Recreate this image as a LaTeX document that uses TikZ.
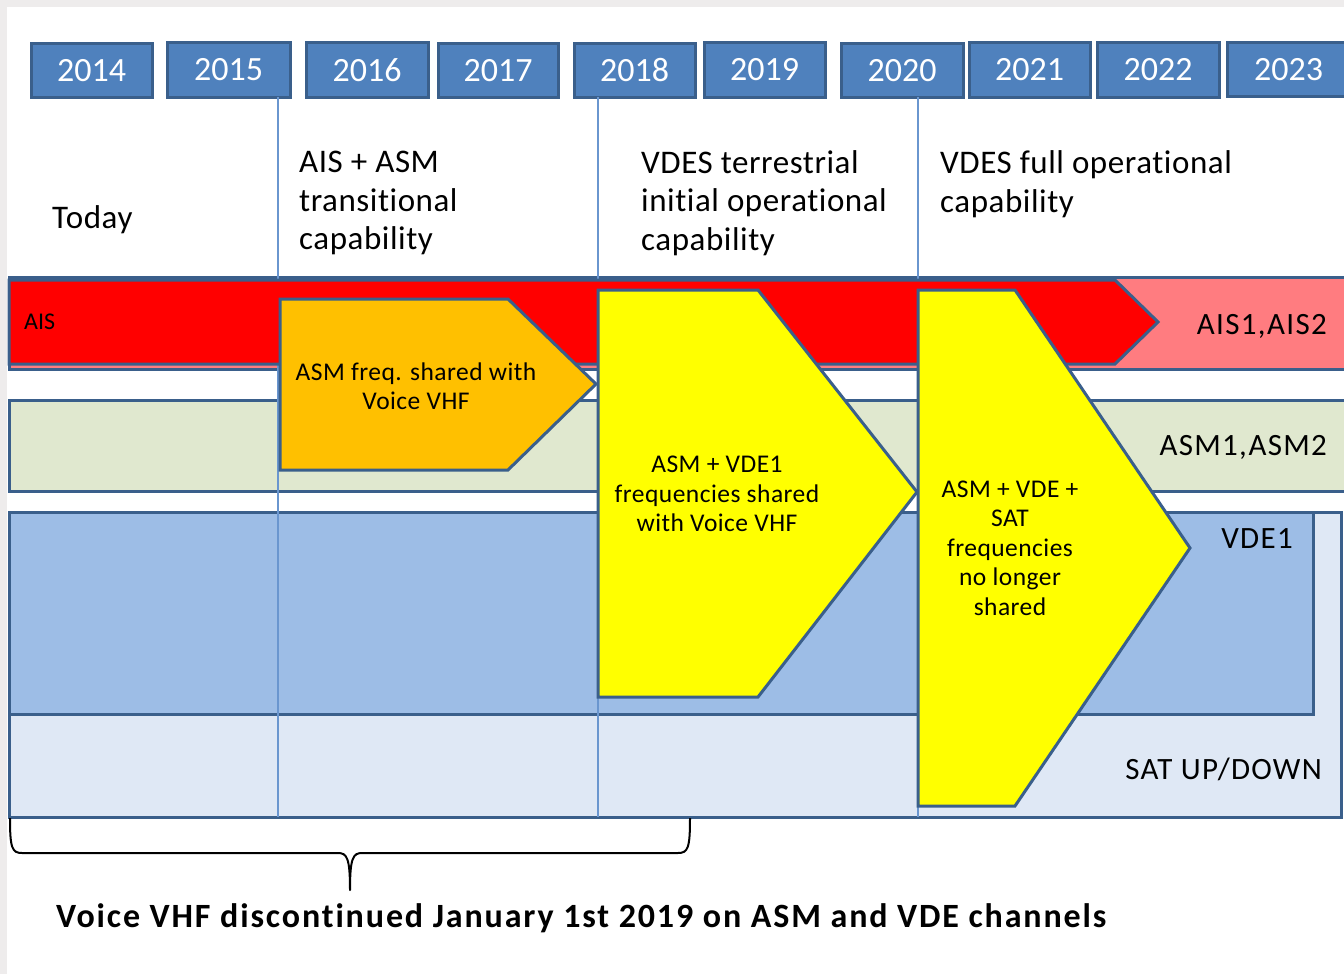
\documentclass[tikz,border=0pt]{standalone}
\usepackage{fontspec}
\setmainfont{Carlito}[Ligatures=NoCommon]
\definecolor{frameGray}{HTML}{EEECEC}
\definecolor{boxBlue}{HTML}{4F81BD}
\definecolor{edgeBlue}{HTML}{3A5F8B}
\definecolor{gridBlue}{HTML}{6A96CF}
\definecolor{aisRed}{HTML}{FF0000}
\definecolor{aisPink}{HTML}{FF7C80}
\definecolor{asmGreen}{HTML}{E0E8CF}
\definecolor{vdeBlue}{HTML}{9DBDE6}
\definecolor{satBlue}{HTML}{DFE8F5}
\definecolor{phaseOrange}{HTML}{FFC000}
\definecolor{phaseYellow}{HTML}{FFFF00}
\tikzset{
  yearbox/.style={draw=edgeBlue, line width=3pt, fill=boxBlue, text=white,
    inner sep=0pt, font=\fontsize{34}{40}\selectfont},
  band/.style={draw=edgeBlue, line width=3pt},
  grid/.style={draw=gridBlue, line width=1.1pt},
  phase/.style={draw=edgeBlue, line width=3pt, line join=miter},
  milestone/.style={align=left, inner sep=0pt,
    font=\fontsize{33}{38.5}\selectfont\addfontfeatures{LetterSpace=1.7}},
  bandlabel/.style={inner sep=0pt,
    font=\fontsize{31}{36}\selectfont\addfontfeatures{LetterSpace=4.2}},
  phasetext/.style={align=center, inner sep=0pt,
    font=\fontsize{25.5}{29.5}\selectfont\addfontfeatures{LetterSpace=1.8}},
  brace/.style={draw=black, line width=2pt, line join=round},
}
\begin{document}
\begin{tikzpicture}[x=1pt, y=-1pt]
% page and frame
\useasboundingbox (0,0) rectangle (1344,974);
\fill[frameGray] (0,0) rectangle (1344,974);
\fill[white] (7,7) rectangle (1344,974);

% year boxes
\node[yearbox, minimum width=121pt, minimum height=53pt] (y2014) at (91.5,70.5) {2014};
\node[yearbox, minimum width=123pt, minimum height=54pt] (y2015) at (228.5,70) {2015};
\node[yearbox, minimum width=122pt, minimum height=54pt] (y2016) at (367,70) {2016};
\node[yearbox, minimum width=120pt, minimum height=53pt] (y2017) at (498,70.5) {2017};
\node[yearbox, minimum width=121pt, minimum height=53pt] (y2018) at (634.5,70.5) {2018};
\node[yearbox, minimum width=121pt, minimum height=54pt] (y2019) at (764.5,70) {2019};
\node[yearbox, minimum width=122pt, minimum height=53pt] (y2020) at (902,70.5) {2020};
\node[yearbox, minimum width=121pt, minimum height=54pt] (y2021) at (1029.5,70) {2021};
\node[yearbox, minimum width=122pt, minimum height=54pt] (y2022) at (1158,70) {2022};
\node[yearbox, minimum width=123pt, minimum height=53pt] (y2023) at (1288.5,69.5) {2023};

% milestone captions
\node[milestone, anchor=west] (today) at (52,220) {Today};
\node[milestone, anchor=west] (ms1) at (299,203) {AIS + ASM\\transitional\\capability};
\node[milestone, anchor=west] (ms2) at (641,203) {VDES terrestrial\\initial operational\\capability};
\node[milestone, anchor=west] (ms3) at (940,184) {VDES full operational\\capability};

% channel bands
\draw[band, fill=aisPink] (9,277) rectangle (1352,369);
\draw[band, fill=asmGreen] (9,400) rectangle (1352,491);
\draw[band, fill=satBlue] (9,512) rectangle (1341,817);
\draw[band, fill=vdeBlue] (9,512) rectangle (1313,714);

% phase boundaries
\coordinate (g1top) at (278,97);  \coordinate (g1bot) at (278,817);
\coordinate (g2top) at (598,97);  \coordinate (g2bot) at (598,817);
\coordinate (g3top) at (918,97);  \coordinate (g3bot) at (918,817);
\draw[grid] (g1top) -- (g1bot);
\draw[grid] (g2top) -- (g2bot);
\draw[grid] (g3top) -- (g3bot);

% AIS arrow
\draw[phase, fill=aisRed] (9,280) -- (1115,280) -- (1158,322) -- (1115,364) -- (9,364) -- cycle;

% band labels
\node[inner sep=0pt, anchor=west, font=\fontsize{24}{28}\selectfont] (ais) at (24,322) {AIS};
\node[bandlabel, anchor=east] (ais12) at (1327,326) {AIS1,AIS2};
\node[bandlabel, anchor=east] (asm12) at (1327,447) {ASM1,ASM2};
\node[bandlabel, anchor=east] (vde1) at (1293,539) {VDE1};
\node[bandlabel, anchor=east] (sat) at (1322,769) {SAT UP/DOWN};

% transition phases
\draw[phase, fill=phaseOrange] (280,299) -- (508,299) -- (596,384) -- (508,470) -- (280,470) -- cycle;
\node[phasetext] (p1) at (416,386) {ASM freq. shared with\\Voice VHF};

\draw[phase, fill=phaseYellow] (598,290) -- (758,290) -- (917,492) -- (758,697) -- (598,697) -- cycle;
\node[phasetext] (p2) at (717,494) {ASM + VDE1\\frequencies shared\\with Voice VHF};

\draw[phase, fill=phaseYellow] (918,290) -- (1015,290) -- (1190,548) -- (1015,806) -- (918,806) -- cycle;
\node[phasetext] (p3) at (1010,548) {ASM + VDE +\\SAT\\frequencies\\no longer\\shared};

% brace under the first years
\coordinate (braceL) at (10,818);
\coordinate (braceTip) at (350,890);
\coordinate (braceR) at (690,818);
\draw[brace] (braceL) .. controls (10,848) and (12,853) .. (22,853) -- (338,853)
  .. controls (347,853) and (350,858) .. (braceTip)
  .. controls (350,858) and (353,853) .. (362,853) -- (678,853)
  .. controls (688,853) and (690,848) .. (braceR);
\node[inner sep=0pt, anchor=west,
  font=\bfseries\fontsize{34}{40}\selectfont\addfontfeatures{LetterSpace=5.5}] (note) at (56,918)
  {Voice VHF discontinued January 1st 2019 on ASM and VDE channels};
\end{tikzpicture}
\end{document}
